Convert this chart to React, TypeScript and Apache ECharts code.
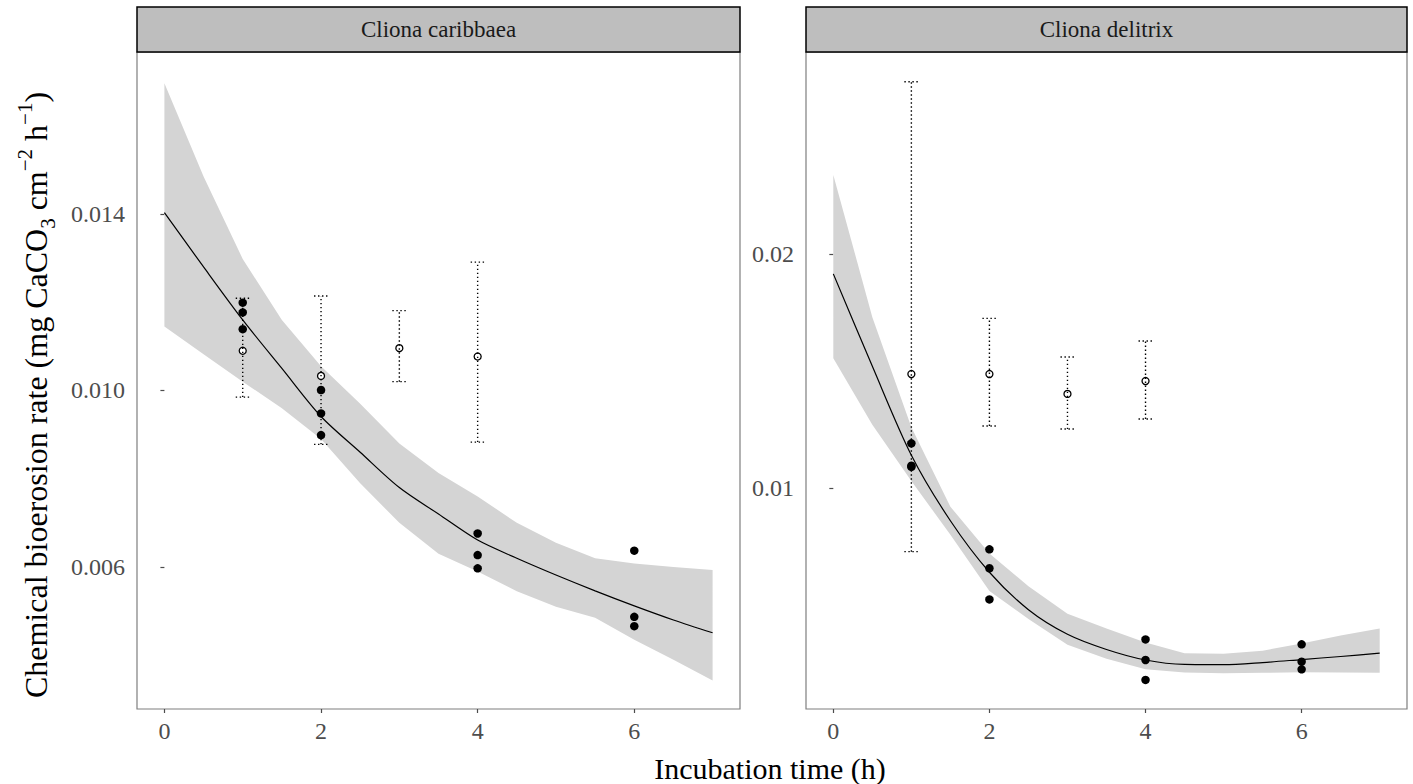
import React, { useEffect, useRef } from "react";
import * as echarts from "echarts";

// ---- data ----
const fitHours = [0, 0.5, 1, 1.5, 2, 2.5, 3, 3.5, 4, 4.5, 5, 5.5, 6, 6.5, 7];

const caribFit = [0.01403, 0.0128, 0.0116, 0.0105, 0.00941, 0.0086, 0.0078, 0.0072, 0.00661, 0.0062, 0.00582, 0.00546, 0.00512, 0.0048, 0.00451];
const caribLo = [0.01145, 0.01082, 0.0102, 0.0096, 0.0089, 0.0079, 0.007, 0.0063, 0.0059, 0.00545, 0.0051, 0.00485, 0.00435, 0.0039, 0.00343];
const caribHi = [0.01696, 0.01485, 0.01298, 0.0116, 0.01055, 0.0097, 0.0088, 0.00813, 0.0076, 0.007, 0.00655, 0.0062, 0.00608, 0.006, 0.00593];

const delitFit = [0.01915, 0.0152, 0.0114, 0.0086, 0.0064, 0.0048, 0.00375, 0.0031, 0.00265, 0.00246, 0.00245, 0.00254, 0.00267, 0.0028, 0.00294];
const delitLo = [0.01554, 0.0127, 0.0103, 0.008, 0.0056, 0.0044, 0.0033, 0.0027, 0.00225, 0.00212, 0.00208, 0.0021, 0.00213, 0.00212, 0.0021];
const delitHi = [0.02338, 0.0173, 0.0126, 0.0092, 0.0072, 0.0058, 0.00463, 0.004, 0.0034, 0.00294, 0.00292, 0.00305, 0.00335, 0.0037, 0.004];

const obsHours = [1, 1, 1, 2, 2, 2, 4, 4, 4, 6, 6, 6];
const caribObs = [0.01199, 0.01177, 0.01139, 0.01001, 0.00948, 0.00899, 0.00676, 0.00627, 0.00597, 0.00637, 0.00487, 0.00466];
const delitObs = [0.01191, 0.0109, 0.01095, 0.00738, 0.00657, 0.00524, 0.00353, 0.00265, 0.0018, 0.00332, 0.00258, 0.00225];

const meanHours = [1, 2, 3, 4];
const caribMean = [0.0109, 0.01033, 0.01096, 0.01077];
const caribMeanLo = [0.00985, 0.00878, 0.0102, 0.00883];
const caribMeanHi = [0.01209, 0.01214, 0.01181, 0.01291];
const delitMean = [0.01487, 0.01487, 0.01402, 0.01457];
const delitMeanLo = [0.00728, 0.01265, 0.01252, 0.01295];
const delitMeanHi = [0.02736, 0.01725, 0.0156, 0.01628];

const xTicks = [0, 2, 4, 6];
const caribYTicks = [0.006, 0.01, 0.014];
const delitYTicks = [0.01, 0.02];
const panelTitles = ["Cliona caribbaea", "Cliona delitrix"];

const SERIF = "'Liberation Serif', 'DejaVu Serif', 'Times New Roman', serif";

export default function App() {
  const ref = useRef<HTMLDivElement>(null);
  useEffect(() => {
    if (!ref.current) return;
    const chart = echarts.init(ref.current, null, { renderer: "svg" });

    const panels = [
      { left: 137, width: 603 },
      { left: 806, width: 601 },
    ];
    const top = 52;
    const height = 657;

    const bandSeries = (idx: number, lo: number[], hi: number[]) => ({
      type: "custom",
      xAxisIndex: idx,
      yAxisIndex: idx,
      z: 1,
      silent: true,
      data: fitHours.map((h, i) => [h, lo[i], hi[i]]),
      renderItem: (params: any, api: any) => {
        if (params.dataIndex !== 0) return null;
        const pts: number[][] = [];
        for (let i = 0; i < fitHours.length; i++) pts.push(api.coord([fitHours[i], hi[i]]));
        for (let i = fitHours.length - 1; i >= 0; i--) pts.push(api.coord([fitHours[i], lo[i]]));
        return { type: "polygon", shape: { points: pts }, style: { fill: "#d4d4d4", stroke: "none" } };
      },
    });

    const errSeries = (idx: number, lo: number[], hi: number[]) => ({
      type: "custom",
      xAxisIndex: idx,
      yAxisIndex: idx,
      z: 5,
      silent: true,
      data: meanHours.map((h, i) => [h, lo[i], hi[i]]),
      renderItem: (params: any, api: any) => {
        const x = api.value(0);
        const a = api.coord([x, api.value(1)]);
        const b = api.coord([x, api.value(2)]);
        const st = { stroke: "#000", lineWidth: 1.4, lineDash: [1.4, 2.6] };
        const w = 7;
        return {
          type: "group",
          children: [
            { type: "line", shape: { x1: a[0], y1: a[1], x2: b[0], y2: b[1] }, style: st },
            { type: "line", shape: { x1: a[0] - w, y1: a[1], x2: a[0] + w, y2: a[1] }, style: st },
            { type: "line", shape: { x1: b[0] - w, y1: b[1], x2: b[0] + w, y2: b[1] }, style: st },
          ],
        };
      },
    });

    const lineSeries = (idx: number, fit: number[]) => ({
      type: "line",
      xAxisIndex: idx,
      yAxisIndex: idx,
      z: 2,
      data: fitHours.map((h, i) => [h, fit[i]]),
      smooth: 0.3,
      showSymbol: false,
      lineStyle: { color: "#000", width: 1.2 },
      silent: true,
    });

    const obsSeries = (idx: number, obs: number[]) => ({
      type: "scatter",
      xAxisIndex: idx,
      yAxisIndex: idx,
      z: 3,
      symbol: "circle",
      symbolSize: 8.5,
      itemStyle: { color: "#000", opacity: 1 },
      data: obsHours.map((h, i) => [h, obs[i]]),
    });

    const meanSeries = (idx: number, m: number[]) => ({
      type: "scatter",
      xAxisIndex: idx,
      yAxisIndex: idx,
      z: 4,
      symbol: "circle",
      symbolSize: 7,
      itemStyle: { color: "#fff", borderColor: "#000", borderWidth: 1.3, opacity: 1 },
      data: meanHours.map((h, i) => [h, m[i]]),
    });

    const xAxis = (idx: number) => ({
      type: "value",
      gridIndex: idx,
      min: -0.35,
      max: 7.35,
      axisLine: { show: false },
      splitLine: { show: false },
      axisTick: { show: true, length: 4, customValues: xTicks, lineStyle: { color: "#4d4d4d", width: 1.2 } },
      axisLabel: { customValues: xTicks, fontFamily: SERIF, fontSize: 24, color: "#4d4d4d", margin: 10 },
    });

    const yAxis = (idx: number, min: number, max: number, ticks: number[], dec: number) => ({
      type: "value",
      gridIndex: idx,
      min,
      max,
      axisLine: { show: false },
      splitLine: { show: false },
      axisTick: { show: true, length: 4, customValues: ticks, lineStyle: { color: "#4d4d4d", width: 1.2 } },
      axisLabel: {
        customValues: ticks,
        fontFamily: SERIF,
        fontSize: 24,
        color: "#4d4d4d",
        margin: 12,
        formatter: (v: number) => v.toFixed(dec),
      },
    });

    const strips: any[] = [];
    panels.forEach((p, i) => {
      strips.push({
        type: "rect",
        shape: { x: p.left, y: 7, width: p.width, height: top - 7 },
        style: { fill: "#bebebe", stroke: "#000", lineWidth: 1.5 },
        z: 10,
      });
      strips.push({
        type: "text",
        x: p.left + p.width / 2,
        y: 7 + (top - 7) / 2,
        style: {
          text: panelTitles[i],
          fontFamily: SERIF,
          fontSize: 23,
          fill: "#1a1a1a",
          align: "center",
          verticalAlign: "middle",
        },
        z: 11,
      });
    });

    const option: any = {
      animation: false,
      backgroundColor: "#fff",
      grid: panels.map((p) => ({
        left: p.left,
        top,
        width: p.width,
        height,
        show: true,
        borderColor: "#7f7f7f",
        borderWidth: 1.2,
        backgroundColor: "transparent",
        containLabel: false,
      })),
      xAxis: [xAxis(0), xAxis(1)],
      yAxis: [
        yAxis(0, 0.002782, 0.017671, caribYTicks, 3),
        yAxis(1, 0.000556, 0.028632, delitYTicks, 2),
      ],
      series: [
        bandSeries(0, caribLo, caribHi),
        lineSeries(0, caribFit),
        obsSeries(0, caribObs),
        meanSeries(0, caribMean),
        errSeries(0, caribMeanLo, caribMeanHi),
        bandSeries(1, delitLo, delitHi),
        lineSeries(1, delitFit),
        obsSeries(1, delitObs),
        meanSeries(1, delitMean),
        errSeries(1, delitMeanLo, delitMeanHi),
      ],
      graphic: [
        ...strips,
        {
          type: "text",
          x: 770,
          y: 768,
          style: {
            text: "Incubation time (h)",
            fontFamily: SERIF,
            fontSize: 30,
            fill: "#000",
            align: "center",
            verticalAlign: "middle",
          },
        },
        {
          type: "text",
          x: 36,
          y: 395,
          rotation: Math.PI / 2,
          style: {
            text: "Chemical bioerosion rate (mg CaCO{sub|3} cm{sup|−2} h{sup|−1})",
            fontFamily: SERIF,
            fontSize: 32,
            fill: "#000",
            align: "center",
            verticalAlign: "middle",
            lineHeight: 44,
            rich: {
              sub: { fontFamily: SERIF, fontSize: 21, fill: "#000", verticalAlign: "bottom", lineHeight: 44 },
              sup: { fontFamily: SERIF, fontSize: 21, fill: "#000", verticalAlign: "top", lineHeight: 44 },
            },
          },
        },
      ],
    };

    chart.setOption(option);
    return () => chart.dispose();
  }, []);

  return <div ref={ref} style={{ position: "absolute", left: 0, top: 0, width: 1413, height: 784 }} />;
}
